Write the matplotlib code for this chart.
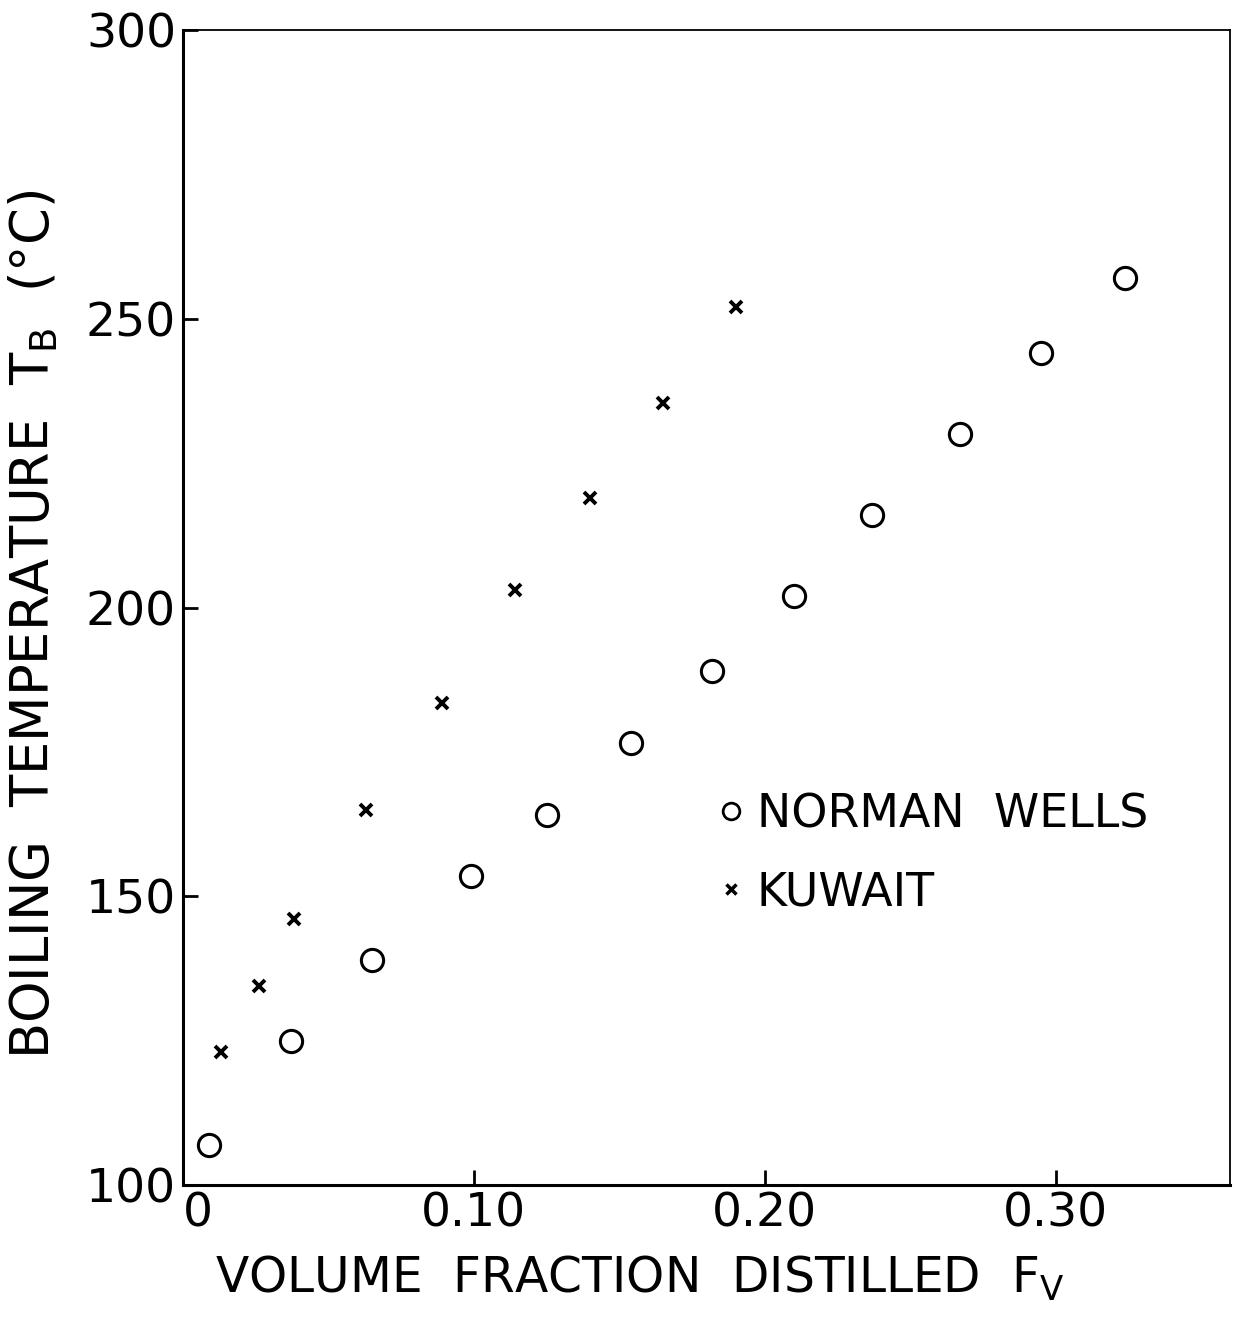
import matplotlib
matplotlib.use("Agg")
import matplotlib.pyplot as plt
from matplotlib.lines import Line2D

plt.rcParams['font.family'] = ['DejaVu Sans']
plt.rcParams['mathtext.default'] = 'regular'

# Data
norman_fv = [0.009, 0.037, 0.065, 0.099, 0.125, 0.154, 0.182, 0.210, 0.237, 0.267, 0.295, 0.324]
norman_tb = [107, 125, 139, 153.5, 164, 176.5, 189, 202, 216, 230, 244, 257]
kuwait_fv = [0.013, 0.026, 0.038, 0.063, 0.089, 0.114, 0.140, 0.165, 0.190]
kuwait_tb = [123, 134.5, 146, 165, 183.5, 203, 219, 235.5, 252]
xticks = [0, 0.10, 0.20, 0.30]
xticklabels = ['0', '0.10', '0.20', '0.30']
yticks = [100, 150, 200, 250, 300]

fig = plt.figure(figsize=(12.34, 13.22), dpi=100)
ax = fig.add_axes([0.1483, 0.1036, 0.8485, 0.8737])

ax.plot(norman_fv, norman_tb, linestyle='none', marker='o', markersize=16,
        markerfacecolor='none', markeredgecolor='black', markeredgewidth=2.2)
ax.plot(kuwait_fv, kuwait_tb, linestyle='none', marker='x', markersize=8,
        color='black', markeredgewidth=2.8)

ax.set_xlim(0, 0.36)
ax.set_ylim(100, 300)
ax.set_xticks(xticks)
ax.set_xticklabels(xticklabels)
ax.set_yticks(yticks)
ax.tick_params(direction='in', length=11, width=2, labelsize=34, pad=5)
for lbl in ax.get_xticklabels():
    if lbl.get_text() == '0':
        lbl.set_horizontalalignment('left')

for s in ['left', 'bottom']:
    ax.spines[s].set_linewidth(2.2)
for s in ['top', 'right']:
    ax.spines[s].set_linewidth(1.3)

ax.set_xlabel('VOLUME  FRACTION  DISTILLED  F$_V$', fontsize=35)
ax.set_ylabel('BOILING  TEMPERATURE  T$_B$  (°C)', fontsize=38)
ax.xaxis.set_label_coords(0.4365, -0.060)
ax.yaxis.set_label_coords(-0.117, 0.485)

handles = [
    Line2D([], [], linestyle='none', marker='o', markersize=12, markerfacecolor='none',
           markeredgecolor='black', markeredgewidth=2),
    Line2D([], [], linestyle='none', marker='x', markersize=7, color='black', markeredgewidth=2.5),
]
ax.legend(handles, ['NORMAN  WELLS', 'KUWAIT'], loc='upper left',
          bbox_to_anchor=(0.491, 0.360), frameon=False, fontsize=33,
          handlelength=0.5, handletextpad=0.3, labelspacing=0.72, borderpad=0)

fig.savefig('out.png', dpi=100)
